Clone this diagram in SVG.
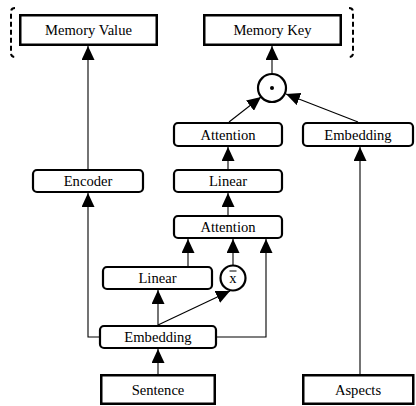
<svg xmlns="http://www.w3.org/2000/svg" width="416" height="406" viewBox="0 0 416 406">
  <style>
    .lbl { font-size: 14.6px; fill: #000; text-anchor: middle; }
    .sq { fill: #fff; stroke: #000; stroke-width: 2.5; }
    .rd { fill: #fff; stroke: #000; stroke-width: 2.2; }
    .op { fill: #fff; stroke: #000; stroke-width: 2.2; }
    .ln { fill: none; stroke: #000; stroke-width: 1.1; }
    .br { fill: none; stroke: #000; stroke-width: 2; stroke-dasharray: 5 3; }
  </style>
  <defs>
    <marker id="arrow" viewBox="0 0 14 13" refX="14" refY="6.5" markerWidth="14" markerHeight="13" markerUnits="userSpaceOnUse" orient="auto">
      <path d="M0,0 L14,6.5 L0,13 z" fill="#000"/>
    </marker>
  </defs>

  <!-- connectors -->
  <g id="connectors">
    <line class="ln" x1="272" y1="74" x2="272" y2="46" marker-end="url(#arrow)"/>
    <line class="ln" x1="229" y1="122" x2="261" y2="97" marker-end="url(#arrow)"/>
    <line class="ln" x1="358" y1="122" x2="286" y2="94" marker-end="url(#arrow)"/>
    <line class="ln" x1="228" y1="169" x2="228" y2="147" marker-end="url(#arrow)"/>
    <line class="ln" x1="228" y1="215" x2="228" y2="193" marker-end="url(#arrow)"/>
    <line class="ln" x1="188" y1="266" x2="188" y2="239" marker-end="url(#arrow)"/>
    <line class="ln" x1="233" y1="265.5" x2="233" y2="239" marker-end="url(#arrow)"/>
    <polyline class="ln" points="217,337 266,337 266,239" marker-end="url(#arrow)"/>
    <line class="ln" x1="158" y1="325" x2="158" y2="290" marker-end="url(#arrow)"/>
    <line class="ln" x1="158" y1="325" x2="230" y2="291" marker-end="url(#arrow)"/>
    <line class="ln" x1="158" y1="374" x2="158" y2="349" marker-end="url(#arrow)"/>
    <polyline class="ln" points="99,337 88,337 88,193" marker-end="url(#arrow)"/>
    <line class="ln" x1="88" y1="169" x2="88" y2="46" marker-end="url(#arrow)"/>
    <line class="ln" x1="360" y1="374" x2="360" y2="147" marker-end="url(#arrow)"/>
  </g>

  <!-- memory outputs with dashed brackets -->
  <path class="br" d="M15,8 Q11,8 11,12 L11,53 Q11,57 15,57"/>
  <path class="br" d="M349,8 Q353,8 353,12 L353,53 Q353,57 349,57"/>

  <g font-family="'Liberation Serif', 'DejaVu Serif', serif">
    <g id="memory-value">
      <rect class="sq" x="20.25" y="15.25" width="136.5" height="29.5"/>
      <text class="lbl" x="88.5" y="35">Memory Value</text>
    </g>
    <g id="memory-key">
      <rect class="sq" x="204.25" y="15.25" width="136.5" height="29.5"/>
      <text class="lbl" x="272.5" y="35">Memory Key</text>
    </g>

    <g id="dot-product">
      <circle class="op" cx="272" cy="88" r="14"/>
      <circle cx="272" cy="88" r="2" fill="#000"/>
    </g>

    <g id="attention-top">
      <rect class="rd" x="174" y="123" width="108" height="23" rx="4"/>
      <text class="lbl" x="228" y="139.5">Attention</text>
    </g>
    <g id="embedding-aspects">
      <rect class="rd" x="303" y="123" width="110" height="23" rx="4"/>
      <text class="lbl" x="358" y="139.5">Embedding</text>
    </g>

    <g id="encoder">
      <rect class="rd" x="33" y="170" width="110" height="22" rx="4"/>
      <text class="lbl" x="88" y="186">Encoder</text>
    </g>
    <g id="linear-top">
      <rect class="rd" x="174" y="170" width="108" height="22" rx="4"/>
      <text class="lbl" x="228" y="186">Linear</text>
    </g>

    <g id="attention-mid">
      <rect class="rd" x="174" y="216" width="108" height="22" rx="4"/>
      <text class="lbl" x="228" y="232">Attention</text>
    </g>

    <g id="linear-low">
      <rect class="rd" x="103" y="267" width="109" height="22" rx="4"/>
      <text class="lbl" x="157.5" y="283">Linear</text>
    </g>
    <g id="mean">
      <circle class="op" cx="233" cy="278" r="12.5"/>
      <text class="lbl" x="233" y="283">x</text>
      <line x1="229.5" y1="271" x2="236.5" y2="271" stroke="#000" stroke-width="1"/>
    </g>

    <g id="embedding-sentence">
      <rect class="rd" x="100" y="326" width="116" height="22" rx="4"/>
      <text class="lbl" x="158" y="342">Embedding</text>
    </g>

    <g id="sentence">
      <rect class="sq" x="101.25" y="375.25" width="113.5" height="28.5"/>
      <text class="lbl" x="158" y="394.5">Sentence</text>
    </g>
    <g id="aspects">
      <rect class="sq" x="303.25" y="375.25" width="110" height="28.5"/>
      <text class="lbl" x="358" y="394.5">Aspects</text>
    </g>
  </g>
</svg>
